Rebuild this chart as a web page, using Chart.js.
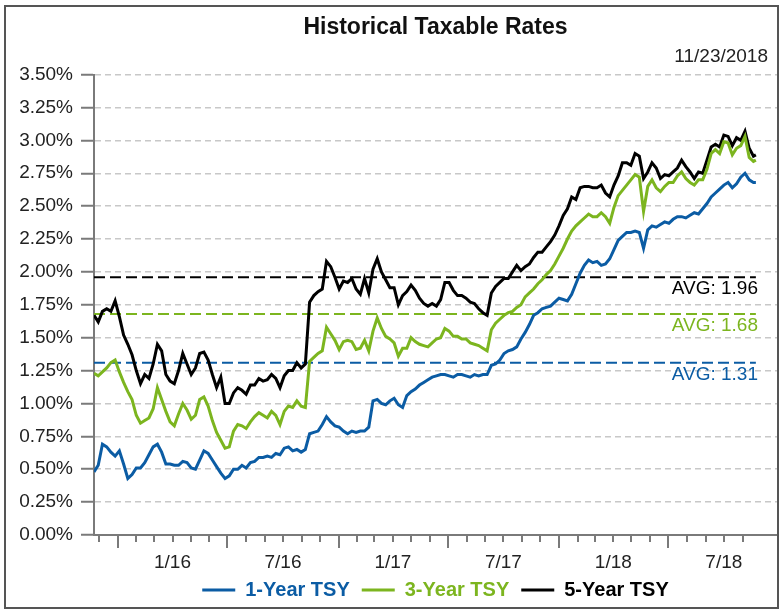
<!DOCTYPE html>
<html>
<head>
<meta charset="utf-8">
<script src="https://cdn.jsdelivr.net/npm/chart.js@4/dist/chart.umd.min.js"></script>
<style>
html,body{margin:0;padding:0;background:#fff;}
canvas{display:block;}
</style>
</head>
<body>
<canvas id="c" width="780" height="610"></canvas>
<script>
const chartTitle = 'Historical Taxable Rates';
const asOfDate = '11/23/2018';
const seriesNames = ['1-Year TSY', '3-Year TSY', '5-Year TSY'];
const seriesColors = ['#0b5ca4', '#7cb51f', '#000000'];
const averages = [1.31, 1.68, 1.96];

const dates = [
'2015-11-23','2015-11-30','2015-12-07','2015-12-14','2015-12-21','2015-12-28',
'2016-01-04','2016-01-11','2016-01-18','2016-01-25','2016-02-01','2016-02-08','2016-02-15','2016-02-22','2016-02-29',
'2016-03-07','2016-03-14','2016-03-21','2016-03-28','2016-04-04','2016-04-11','2016-04-18','2016-04-25',
'2016-05-02','2016-05-09','2016-05-16','2016-05-23','2016-05-30','2016-06-06','2016-06-13','2016-06-20','2016-06-27',
'2016-07-04','2016-07-11','2016-07-18','2016-07-25','2016-08-01','2016-08-08','2016-08-15','2016-08-22','2016-08-29',
'2016-09-05','2016-09-12','2016-09-19','2016-09-26','2016-10-03','2016-10-10','2016-10-17','2016-10-24','2016-10-31',
'2016-11-07','2016-11-14','2016-11-21','2016-11-28','2016-12-05','2016-12-12','2016-12-19','2016-12-26',
'2017-01-02','2017-01-09','2017-01-16','2017-01-23','2017-01-30','2017-02-06','2017-02-13','2017-02-20','2017-02-27',
'2017-03-06','2017-03-13','2017-03-20','2017-03-27','2017-04-03','2017-04-10','2017-04-17','2017-04-24',
'2017-05-01','2017-05-08','2017-05-15','2017-05-22','2017-05-29','2017-06-05','2017-06-12','2017-06-19','2017-06-26',
'2017-07-03','2017-07-10','2017-07-17','2017-07-24','2017-07-31','2017-08-07','2017-08-14','2017-08-21','2017-08-28',
'2017-09-04','2017-09-11','2017-09-18','2017-09-25','2017-10-02','2017-10-09','2017-10-16','2017-10-23','2017-10-30',
'2017-11-06','2017-11-13','2017-11-20','2017-11-27','2017-12-04','2017-12-11','2017-12-18','2017-12-25',
'2018-01-01','2018-01-08','2018-01-15','2018-01-22','2018-01-29','2018-02-05','2018-02-12','2018-02-19','2018-02-26',
'2018-03-05','2018-03-12','2018-03-19','2018-03-26','2018-04-02','2018-04-09','2018-04-16','2018-04-23','2018-04-30',
'2018-05-07','2018-05-14','2018-05-21','2018-05-28','2018-06-04','2018-06-11','2018-06-18','2018-06-25',
'2018-07-02','2018-07-09','2018-07-16','2018-07-23','2018-07-30','2018-08-06','2018-08-13','2018-08-20','2018-08-27',
'2018-09-03','2018-09-10','2018-09-17','2018-09-24','2018-10-01','2018-10-08','2018-10-15','2018-10-22','2018-10-29',
'2018-11-05','2018-11-12','2018-11-19','2018-11-23'
];

const tsy1 = [
0.48,0.53,0.69,0.67,0.63,0.60,0.64,0.54,0.43,0.46,
0.51,0.51,0.55,0.61,0.67,0.69,0.63,0.54,0.54,0.53,
0.53,0.56,0.55,0.51,0.50,0.57,0.64,0.62,0.57,0.52,
0.47,0.43,0.45,0.50,0.50,0.53,0.51,0.55,0.56,0.59,
0.59,0.60,0.59,0.62,0.61,0.66,0.67,0.64,0.65,0.63,
0.65,0.77,0.78,0.79,0.84,0.90,0.86,0.83,0.82,0.79,
0.77,0.79,0.78,0.79,0.79,0.82,1.02,1.03,1.00,0.99,
1.02,1.04,0.99,0.97,1.06,1.09,1.11,1.14,1.16,1.18,
1.20,1.21,1.22,1.22,1.21,1.20,1.22,1.22,1.21,1.20,
1.22,1.21,1.22,1.22,1.29,1.30,1.33,1.38,1.40,1.41,
1.43,1.49,1.54,1.60,1.67,1.69,1.72,1.73,1.74,1.77,
1.80,1.79,1.78,1.83,1.91,1.99,2.05,2.09,2.07,2.08,
2.05,2.06,2.10,2.17,2.24,2.27,2.30,2.30,2.31,2.30,
2.18,2.32,2.35,2.34,2.36,2.38,2.37,2.40,2.42,2.42,
2.41,2.43,2.45,2.44,2.48,2.52,2.57,2.60,2.63,2.66,
2.68,2.64,2.67,2.72,2.75,2.70,2.68,2.68
];

const tsy3 = [
1.23,1.21,1.24,1.27,1.31,1.33,1.24,1.16,1.09,1.03,
0.91,0.85,0.87,0.89,0.96,1.12,1.03,0.94,0.86,0.83,
0.92,1.00,0.95,0.88,0.91,1.03,1.05,0.98,0.87,0.78,
0.72,0.66,0.67,0.79,0.84,0.83,0.81,0.86,0.90,0.93,
0.91,0.89,0.94,0.91,0.84,0.94,0.98,0.97,1.02,0.98,
0.97,1.32,1.35,1.38,1.40,1.58,1.53,1.48,1.41,1.47,
1.48,1.47,1.41,1.42,1.48,1.40,1.55,1.65,1.57,1.51,
1.49,1.46,1.36,1.42,1.42,1.50,1.47,1.45,1.44,1.43,
1.46,1.49,1.50,1.57,1.55,1.51,1.51,1.49,1.49,1.46,
1.45,1.44,1.42,1.40,1.56,1.61,1.64,1.67,1.69,1.70,
1.73,1.75,1.81,1.84,1.87,1.91,1.94,1.98,2.01,2.06,
2.12,2.18,2.25,2.31,2.35,2.38,2.41,2.44,2.42,2.42,
2.45,2.42,2.37,2.49,2.58,2.62,2.66,2.70,2.74,2.72,
2.46,2.65,2.70,2.64,2.61,2.65,2.68,2.68,2.73,2.76,
2.71,2.68,2.66,2.70,2.70,2.78,2.90,2.93,2.90,2.99,
2.98,2.89,2.94,2.96,3.03,2.87,2.84,2.85
];

const tsy5 = [
1.67,1.62,1.70,1.72,1.70,1.78,1.66,1.52,1.45,1.37,
1.25,1.15,1.22,1.19,1.30,1.45,1.40,1.22,1.17,1.15,
1.25,1.38,1.30,1.22,1.27,1.38,1.39,1.33,1.22,1.12,
1.20,1.00,1.00,1.08,1.12,1.10,1.07,1.14,1.14,1.19,
1.17,1.18,1.22,1.19,1.12,1.21,1.25,1.25,1.31,1.27,
1.30,1.77,1.82,1.85,1.87,2.08,2.04,1.96,1.87,1.93,
1.92,1.95,1.87,1.83,1.95,1.84,2.02,2.10,2.00,1.94,
1.88,1.88,1.75,1.82,1.85,1.90,1.86,1.80,1.76,1.74,
1.76,1.74,1.79,1.92,1.92,1.86,1.82,1.82,1.80,1.77,
1.76,1.72,1.69,1.67,1.84,1.89,1.92,1.95,1.95,2.00,
2.05,2.01,2.04,2.06,2.11,2.15,2.15,2.19,2.23,2.28,
2.35,2.43,2.48,2.57,2.55,2.64,2.65,2.65,2.64,2.64,
2.66,2.60,2.57,2.66,2.73,2.83,2.83,2.81,2.90,2.88,
2.71,2.76,2.83,2.79,2.71,2.74,2.73,2.76,2.79,2.85,
2.80,2.76,2.71,2.76,2.75,2.85,2.95,2.97,2.95,3.04,
3.03,2.96,3.02,3.00,3.07,2.94,2.88,2.89
];

const axisStart = '2015-11-23';
const axisEnd = '2018-12-28';
const majorTickDates = ['2016-01-01','2016-07-01','2017-01-01','2017-07-01','2018-01-01','2018-07-01'];
const tickLabels = ['1/16','7/16','1/17','7/17','1/18','7/18'];
const tickLabelDates = ['2016-04-01','2016-10-01','2017-04-01','2017-10-01','2018-04-01','2018-10-01'];
const firstMinorTick = '2015-12-01';
const lastMinorTick = '2018-11-01';

const FONT = "'Liberation Sans', Arial, Helvetica, sans-serif";

function day(s) {
  const p = s.split('-').map(Number);
  return Date.UTC(p[0], p[1] - 1, p[2]) / 86400000;
}

// monthly axis tick positions (first day of each month)
const monthTicks = [];
(function () {
  const a = firstMinorTick.split('-').map(Number);
  const b = lastMinorTick.split('-').map(Number);
  let y = a[0], m = a[1];
  while (y < b[0] || (y === b[0] && m <= b[1])) {
    monthTicks.push(Date.UTC(y, m - 1, 1) / 86400000);
    m++; if (m > 12) { m = 1; y++; }
  }
})();
const majorSet = new Set(majorTickDates.map(day));
const labelMap = {};
tickLabelDates.forEach((d, i) => { labelMap[day(d)] = tickLabels[i]; });

const xs = dates.map(day);
const seriesData = [tsy1, tsy3, tsy5];

const datasets = seriesData.map((vals, i) => ({
  label: seriesNames[i],
  data: vals.map((v, j) => ({ x: xs[j], y: v })),
  borderColor: seriesColors[i],
  backgroundColor: seriesColors[i],
  borderWidth: 3,
  pointRadius: 0,
  tension: 0,
  order: i
}));
averages.forEach((a, i) => {
  datasets.push({
    label: 'avg' + i,
    data: [{ x: xs[0], y: a }, { x: xs[xs.length - 1], y: a }],
    borderColor: seriesColors[i],
    borderWidth: 2,
    borderDash: [11, 5],
    pointRadius: 0,
    order: 10 + i
  });
});

const extras = {
  id: 'extras',
  afterDatasetsDraw(chart) {
    const ctx = chart.ctx;
    const ys = chart.scales.y;
    ctx.save();
    ctx.font = '19px ' + FONT;
    ctx.textAlign = 'right';
    ctx.textBaseline = 'middle';
    averages.forEach((a, i) => {
      ctx.fillStyle = seriesColors[i];
      ctx.fillText('AVG: ' + a.toFixed(2), 758, ys.getPixelForValue(a) + 12);
    });
    ctx.fillStyle = '#222';
    ctx.fillText(asOfDate, 768, 57);
    ctx.restore();
  },
  afterDraw(chart) {
    const ctx = chart.ctx;
    const xScale = chart.scales.x;
    const base = Math.round(xScale.top);
    ctx.save();
    ctx.fillStyle = '#7a7a7a';
    monthTicks.forEach(v => {
      const px = Math.round(xScale.getPixelForValue(v));
      const len = majorSet.has(v) ? 13 : 7;
      ctx.fillRect(px - 1, base, 2, len);
    });
    ctx.strokeStyle = '#555';
    ctx.lineWidth = 2;
    ctx.strokeRect(5, 6, 773, 602);
    ctx.restore();
  }
};

Chart.defaults.font.family = FONT;
Chart.defaults.color = '#222';

new Chart(document.getElementById('c'), {
  type: 'line',
  data: { datasets },
  plugins: [extras],
  options: {
    responsive: false,
    animation: false,
    devicePixelRatio: 1,
    layout: { padding: { left: 0, right: 3, top: 0, bottom: 0 } },
    scales: {
      x: {
        type: 'linear',
        min: day(axisStart),
        max: day(axisEnd),
        afterBuildTicks: (s) => { s.ticks = monthTicks.map(v => ({ value: v })); },
        afterFit: (s) => { s.height = 33; },
        ticks: {
          autoSkip: false,
          maxRotation: 0,
          minRotation: 0,
          padding: 3,
          font: { size: 19 },
          color: '#222',
          callback: (v) => labelMap[v] || ''
        },
        grid: {
          drawOnChartArea: false,
          drawTicks: true,
          tickLength: 13,
          tickColor: 'rgba(0,0,0,0)'
        },
        border: { color: '#7a7a7a', width: 2 }
      },
      y: {
        min: 0,
        max: 3.5,
        afterFit: (s) => { s.width = 94; },
        ticks: {
          stepSize: 0.25,
          padding: 8,
          font: { size: 19 },
          color: '#222',
          callback: (v) => Number(v).toFixed(2) + '%'
        },
        grid: {
          color: '#c8c8c8',
          lineWidth: 1.5,
          tickLength: 13,
          tickColor: '#7a7a7a',
          tickWidth: 2,
          tickBorderDash: []
        },
        border: { color: '#7a7a7a', width: 2, dash: [6, 4] }
      }
    },
    plugins: {
      title: {
        display: true,
        text: chartTitle,
        fullSize: false,
        color: '#111',
        font: { size: 23, weight: 'bold' },
        padding: { top: 14, bottom: 33 }
      },
      legend: {
        position: 'bottom',
        fullSize: false,
        labels: {
          usePointStyle: true,
          pointStyle: 'line',
          pointStyleWidth: 33,
          padding: 12,
          font: { size: 20, weight: 'bold' },
          filter: (item) => item.datasetIndex < 3,
          generateLabels: (chart) => {
            const items = Chart.defaults.plugins.legend.labels.generateLabels(chart);
            items.forEach(it => { it.fontColor = seriesColors[it.datasetIndex] || '#000'; });
            return items;
          }
        }
      },
      tooltip: { enabled: false }
    }
  }
});
</script>
</body>
</html>
